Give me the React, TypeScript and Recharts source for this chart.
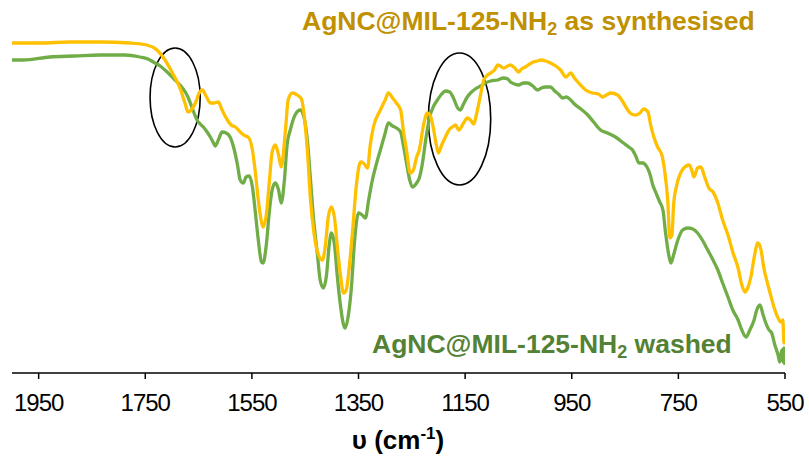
import React from 'react';
import { LineChart, Line, XAxis, YAxis, ReferenceArea } from 'recharts';

// Wavenumber (cm-1) and transmittance (a.u.)
const synthWn = [2000,1947,1891,1835,1778,1747,1728,1713,1700,1685,1675,1670,1664,1656,1649,1643,1636,1628,1621,1613,1606,1596,1589,1581,1570,1562,1557,1549,1544,1538,1532,1529,1523,1517,1512,1506,1500,1495,1487,1482,1474,1465,1457,1452,1446,1440,1433,1425,1418,1412,1407,1401,1395,1390,1384,1378,1373,1367,1361,1354,1346,1341,1333,1328,1322,1309,1300,1294,1286,1279,1271,1266,1260,1253,1247,1241,1236,1228,1221,1215,1209,1204,1200,1194,1187,1179,1174,1168,1162,1153,1146,1140,1134,1129,1123,1115,1108,1102,1095,1089,1084,1078,1070,1065,1057,1050,1044,1037,1029,1022,1014,1008,999,990,980,971,961,952,945,937,924,911,900,892,885,877,864,854,845,838,830,822,815,807,802,796,789,781,776,770,766,762,759,753,745,738,730,725,721,714,708,700,693,685,676,667,657,648,638,631,625,620,614,607,601,595,590,582,576,569,563,558,554,552,550];
const synthT = [66,66,66.2,66.2,66,65.6,64.6,62.6,60.2,57,53.8,52.2,52.6,54,56,56.6,55.4,54,54,54.2,52.6,50.6,49.6,49.2,48,47.4,47.2,44.6,40.6,34.6,30.2,29.2,31.6,38.6,44.2,45.6,43.6,41.2,48.6,54.6,56,55.6,54.8,51.6,44.6,34.6,27.6,23.6,22.6,25.6,31,33.2,31,25.6,19.6,16,16.6,21.6,28.6,37.6,42.2,42,41,45.6,49.2,52.6,54.6,56,55,54,52.6,48.6,44.6,40,40.6,43.2,44.6,49.6,52,51.4,48.6,45.6,44,45.6,47.2,48.8,49.2,49.6,48.6,50,51,50.6,49.8,51.6,54.6,58.6,59.6,60,60.6,61.6,61.4,61,61.4,61.6,61,60.2,60.8,61.2,61.8,62.2,62.4,62.6,62.4,62,61.4,60.6,59.2,60,59,58,56.6,56,55.8,55.2,55.6,56,55.6,54.2,52.6,51.8,51.6,52,52.8,52.2,49.6,47.2,45.2,43.6,40.6,34.6,27,27.6,33.6,37.6,40.2,41.2,41.6,40.6,39.2,41,41.2,39,37,36.2,34,30.6,27.6,24.2,21,17.6,16.2,17,19.2,23.6,26,24.6,21.2,17.6,15.2,12.6,11,10.2,10.6,6,8.6];

const washedWn = [2000,1979,1929,1882,1835,1788,1760,1745,1735,1722,1709,1696,1685,1675,1670,1662,1653,1647,1641,1634,1628,1622,1619,1613,1606,1598,1591,1583,1577,1572,1566,1561,1555,1549,1544,1538,1532,1529,1523,1517,1512,1506,1500,1495,1489,1484,1478,1469,1459,1452,1446,1440,1435,1427,1422,1416,1410,1405,1401,1395,1390,1384,1378,1375,1369,1363,1358,1350,1343,1337,1331,1324,1316,1309,1301,1294,1286,1279,1271,1266,1260,1254,1249,1241,1236,1230,1224,1217,1209,1202,1194,1187,1179,1172,1164,1159,1153,1146,1138,1131,1121,1112,1102,1089,1078,1070,1065,1057,1050,1040,1033,1023,1014,1007,999,990,982,975,967,960,952,945,933,920,909,896,883,868,853,843,836,830,824,817,809,804,798,792,785,779,774,768,764,759,751,742,732,723,714,704,695,685,676,667,657,648,638,631,623,616,608,603,597,591,586,580,575,569,563,560,556,554,552,550];
const washedT = [62.6,62.6,63.2,63.4,63.6,63.6,63.2,62.8,62.2,61.4,60.2,58.8,57.6,56.2,55.2,53,50.6,49.8,49.2,48.2,47.2,46,45.4,46.6,48.2,48,47.2,44.6,41.6,38.6,38,39.2,39.4,37.2,32.6,26.6,22.2,22,25.6,32.6,36.6,38,36.6,34,38.6,45.6,48.6,51.6,52.6,51,46.6,38.6,31.6,23.6,18.6,17,19.6,25.6,28,25.6,19.6,13.6,9.6,9,11.6,17.6,25.6,32,31.6,31,34.6,38.6,42,44.6,47.6,50,49.4,49,48.2,45.6,42,38.6,37.2,38,39,42,46.6,51,53.4,54.6,55.8,56.4,56.2,55,53,52.6,53.8,55.2,56.2,56.8,57.4,58,58.4,58.6,59,58.8,58.2,57.8,57.6,58,58,57.4,56.6,57,57.2,57.2,56.4,55.8,55,55.2,54.6,53.8,52.8,51.6,50.2,48.6,48,47.2,46,45.2,44.6,43.4,42,42,41.2,40,37.6,36,34.2,32.6,28,23.6,22,23.6,26.6,28.6,29,28.8,28,26.4,24.6,22.6,20.6,18,15.2,12.6,10.6,8.6,7.2,8.6,10.6,12.6,13.6,11.6,10,8.6,8,5.6,3.6,2.2,4.6,2.2,5,1.6];

const xTicks = [1950, 1750, 1550, 1350, 1150, 950, 750, 550];

// Circled regions (wavenumber range, transmittance range)
const circleFrom = [1741, 1219];
const circleTo = [1647, 1102];
const circleTop = [65, 64];
const circleBottom = [45.2, 37.6];

const synthData = synthWn.map((wn, i) => ({ wn, t: synthT[i] }));
const washedData = washedWn.map((wn, i) => ({ wn, t: washedT[i] }));

const FONT = "'Liberation Sans', Arial, sans-serif";

const EllipseShape = (props: any) => {
  const { x, y, width, height } = props;
  const cx = x + width / 2;
  const cy = y + height / 2;
  return (
    <ellipse cx={cx} cy={cy} rx={Math.abs(width) / 2} ry={Math.abs(height) / 2} fill="none" stroke="#000" strokeWidth={1.6} />
  );
};

export default function App() {
  return (
    <div style={{ position: 'absolute', left: 0, top: 0, width: 809, height: 457, background: '#fff' }}>
      <LineChart width={809} height={457} margin={{ top: 23, right: 24, left: 12, bottom: 0 }}>
        <XAxis
          type="number"
          dataKey="wn"
          domain={[550, 2000]}
          reversed
          allowDataOverflow
          ticks={xTicks}
          interval={0}
          height={84}
          tickSize={6}
          tickMargin={15}
          axisLine={{ stroke: '#000', strokeWidth: 1.5 }}
          tickLine={{ stroke: '#000', strokeWidth: 1.5 }}
          tick={{ fill: '#000', fontSize: 24, fontFamily: FONT, letterSpacing: -1 }}
        />
        <YAxis type="number" domain={[0, 70]} hide />
        {circleFrom.map((f, i) => (
          <ReferenceArea
            key={i}
            x1={f}
            x2={circleTo[i]}
            y1={circleBottom[i]}
            y2={circleTop[i]}
            shape={EllipseShape}
            ifOverflow="visible"
          />
        ))}
        <Line data={washedData} dataKey="t" type="monotone" stroke="#70AD47" strokeWidth={3.3} dot={false} isAnimationActive={false} />
        <Line data={synthData} dataKey="t" type="monotone" stroke="#FFC000" strokeWidth={3.3} dot={false} isAnimationActive={false} />
      </LineChart>
      <svg width={809} height={457} style={{ position: 'absolute', left: 0, top: 0, pointerEvents: 'none' }}>
        <text x={302} y={30} fontSize={26.5} fontWeight="bold" fill="#BF9000" fontFamily={FONT} style={{ whiteSpace: 'pre' }}>
          AgNC@MIL-125-NH<tspan fontSize={18} dy={5}>2</tspan><tspan dy={-5}> as synthesised</tspan>
        </text>
        <text x={372} y={353} fontSize={26.5} fontWeight="bold" fill="#548235" fontFamily={FONT} style={{ whiteSpace: 'pre' }}>
          AgNC@MIL-125-NH<tspan fontSize={18} dy={5}>2</tspan><tspan dy={-5}> washed</tspan>
        </text>
        <text x={398} y={449} fontSize={26} fontWeight="bold" fill="#000" fontFamily={FONT} textAnchor="middle" style={{ whiteSpace: 'pre' }}>
          υ (cm<tspan fontSize={17} dy={-10}>-1</tspan><tspan dy={10}>)</tspan>
        </text>
      </svg>
    </div>
  );
}
